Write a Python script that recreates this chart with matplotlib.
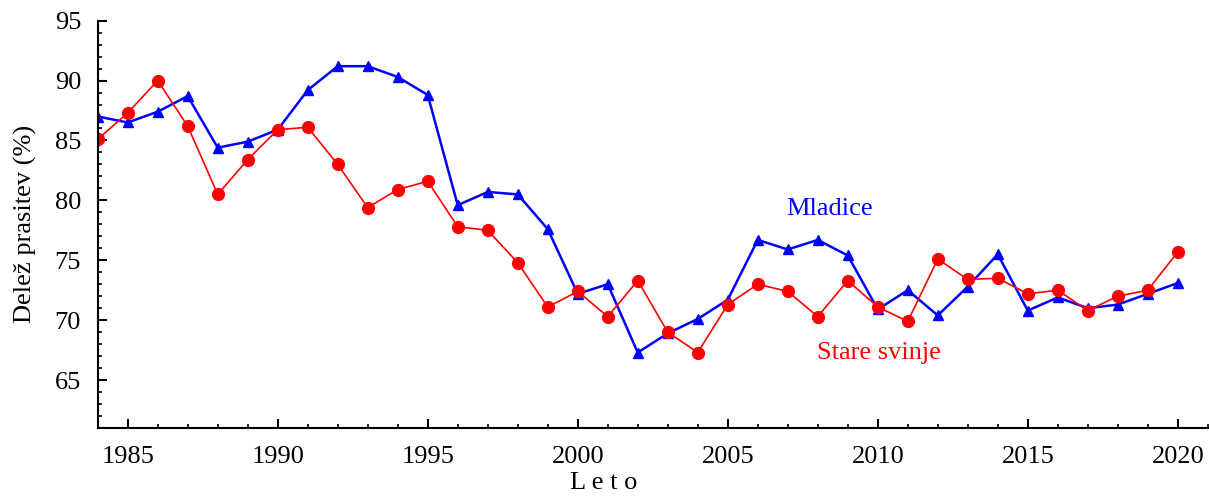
import numpy as np
from matplotlib import pyplot as plt
from matplotlib.ticker import MultipleLocator

# Delez prasitev po letih
leta = list(range(1984, 2021))
mladice = [87.0, 86.5, 87.4, 88.7, 84.4, 84.9, 85.9, 89.2, 91.2, 91.2, 90.3, 88.8,
           79.6, 80.7, 80.5, 77.6, 72.2, 73.0, 67.3, 68.9, 70.1, 71.7, 76.7, 75.9,
           76.7, 75.4, 70.9, 72.5, 70.4, 72.8, 75.5, 70.8, 71.9, 71.0, 71.3, 72.2, 73.1]
stare_svinje = [85.1, 87.3, 90.0, 86.2, 80.5, 83.4, 85.9, 86.1, 83.0, 79.4, 80.9, 81.6,
                77.8, 77.5, 74.8, 71.1, 72.4, 70.3, 73.3, 69.0, 67.3, 71.3, 73.0, 72.4,
                70.3, 73.3, 71.1, 69.9, 75.1, 73.4, 73.5, 72.2, 72.5, 70.8, 72.0, 72.5, 75.7]

plt.rcParams['font.family'] = ['Liberation Serif', 'DejaVu Serif']

fig = plt.figure(figsize=(12.09, 5.04), dpi=100)
ax = fig.add_axes([0.0808, 0.1508, 0.9182, 0.8082])

ax.plot(leta, mladice, color='blue', lw=1.8, marker='^', ms=7)
ax.plot(leta, stare_svinje, color='red', lw=1.2, marker='o', ms=8.5)

ax.text(2008.4, 79.3, 'Mladice', color='blue', fontsize=19, ha='center', va='center')
ax.text(2010.05, 67.3, 'Stare svinje', color='red', fontsize=19, ha='center', va='center')

ax.set_xlim(1984, 2021)
ax.set_ylim(61, 95)
ax.xaxis.set_major_locator(MultipleLocator(5))
ax.xaxis.set_minor_locator(MultipleLocator(1))
ax.yaxis.set_major_locator(MultipleLocator(5))
ax.yaxis.set_minor_locator(MultipleLocator(1))
ax.set_yticks(range(65, 96, 5))

ax.spines['top'].set_visible(False)
ax.spines['right'].set_visible(False)
ax.spines['left'].set_linewidth(1.5)
ax.spines['bottom'].set_linewidth(1.5)
ax.tick_params(which='major', direction='in', length=6.5, width=1.5, labelsize=19)
ax.tick_params(axis='x', which='major', pad=13)
ax.tick_params(axis='y', which='major', pad=12)
ax.tick_params(which='minor', direction='in', length=3, width=1.2)

ax.set_xlabel('L e t o', fontsize=19)
ax.set_ylabel('Delež prasitev (%)', fontsize=19)
ax.xaxis.set_label_coords(0.456, -0.108)
ax.yaxis.set_label_coords(-0.055, 0.5)

plt.savefig('out.png', dpi=100)
